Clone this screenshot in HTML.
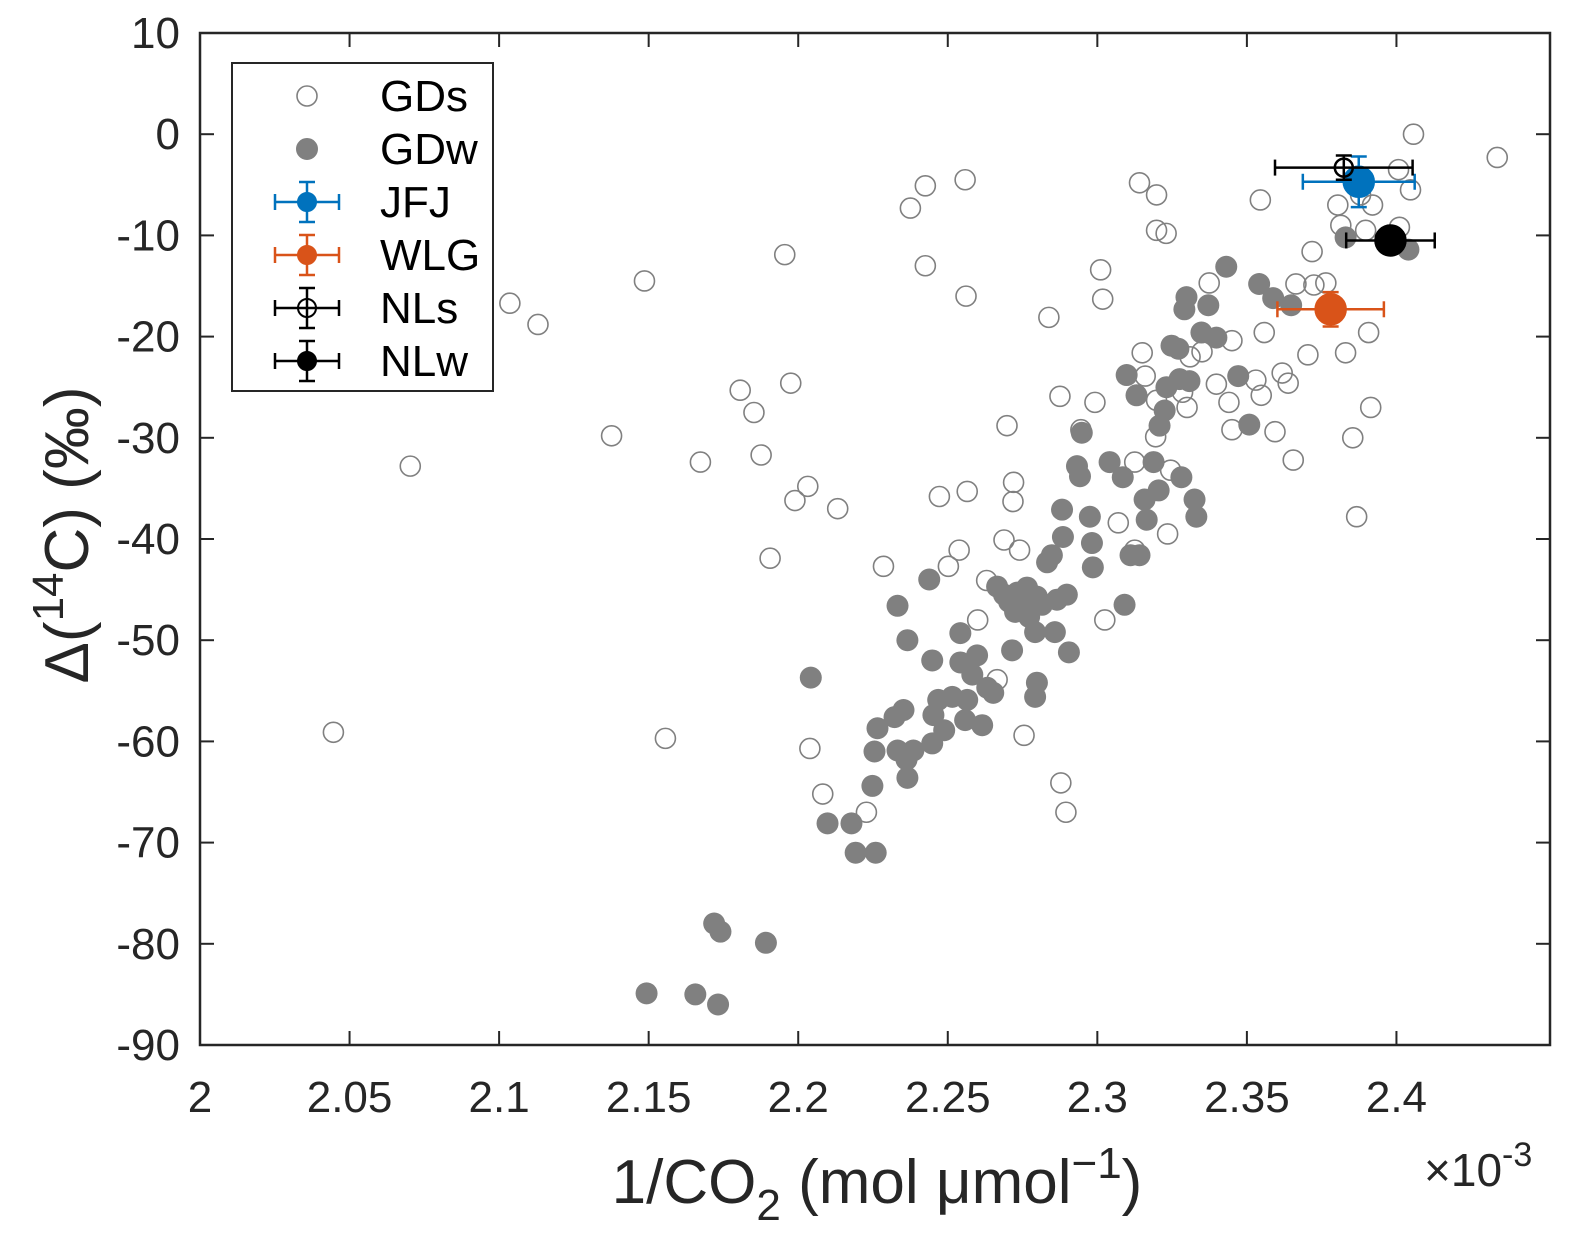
<!DOCTYPE html>
<html><head><meta charset="utf-8"><style>
body{margin:0;background:#fff}
svg{display:block;font-family:"Liberation Sans",Arial,sans-serif}
</style></head><body>
<svg id="chart" width="1572" height="1252" viewBox="0 0 1572 1252" xmlns="http://www.w3.org/2000/svg">
<rect width="1572" height="1252" fill="#fff"/>
<g id="marks"></g>
<rect x="200" y="33" width="1350" height="1012" fill="none" stroke="#262626" stroke-width="2.5"/>
<g id="ticks" font-size="44" fill="#262626"></g>
<text x="877" y="1203" font-size="62" text-anchor="middle" fill="#262626">1/CO<tspan font-size="44" dy="17">2</tspan><tspan dy="-17"> (mol μmol</tspan><tspan font-size="44" dy="-25">−1</tspan><tspan dy="25">)</tspan></text>
<text x="1424" y="1186" font-size="46" fill="#262626">×10<tspan font-size="34" dy="-20">-3</tspan></text>
<text transform="translate(88,535) rotate(-90)" font-size="62" text-anchor="middle" fill="#262626">Δ(<tspan font-size="44" dy="-25">14</tspan><tspan dy="25">C) (‰)</tspan></text>
<g id="legend">
<rect x="232" y="63" width="261" height="328" fill="#fff" stroke="#262626" stroke-width="2"/>
</g>
</svg>
<script>
const gdsX=[2.0703,2.0446,2.1036,2.113,2.1376,2.1486,2.1556,2.1673,2.1806,2.1852,2.1876,2.1906,2.1955,2.1975,2.1989,2.2032,2.2039,2.2082,2.2132,2.2228,2.2285,2.2375,2.2425,2.2425,2.2472,2.2502,2.2538,2.2561,2.2565,2.2558,2.26,2.263,2.2665,2.2698,2.2688,2.272,2.2718,2.274,2.2755,2.2838,2.2875,2.2878,2.2895,2.2945,2.2992,2.3011,2.3018,2.3025,2.307,2.3125,2.3125,2.3141,2.3198,2.3198,2.323,2.315,2.316,2.3195,2.3235,2.3245,2.3198,2.3285,2.33,2.331,2.335,2.3374,2.3398,2.345,2.345,2.344,2.3545,2.353,2.3548,2.3558,2.3594,2.3618,2.3638,2.3655,2.3664,2.3704,2.3718,2.3724,2.3764,2.3804,2.3814,2.383,2.3854,2.3867,2.388,2.3897,2.3907,2.3914,2.392,2.4007,2.401,2.4057,2.4047,2.4337];
const gdsY=[-32.8,-59.1,-16.7,-18.8,-29.8,-14.5,-59.7,-32.4,-25.3,-27.5,-31.7,-41.9,-11.9,-24.6,-36.2,-34.8,-60.7,-65.2,-37.0,-67.0,-42.7,-7.3,-5.1,-13.0,-35.8,-42.7,-41.1,-16.0,-35.3,-4.5,-48.0,-44.1,-53.9,-28.8,-40.1,-34.4,-36.3,-41.1,-59.4,-18.1,-25.9,-64.1,-67.0,-29.2,-26.5,-13.4,-16.3,-48.0,-38.4,-32.4,-41.1,-4.8,-6.0,-9.5,-9.8,-21.6,-23.9,-29.9,-39.5,-33.2,-26.3,-25.5,-27.0,-22.0,-21.5,-14.7,-24.7,-20.4,-29.2,-26.5,-6.5,-24.3,-25.8,-19.6,-29.4,-23.6,-24.6,-32.2,-14.8,-21.8,-11.6,-14.9,-14.7,-7.0,-9.0,-21.6,-30.0,-37.8,-6.0,-9.5,-19.6,-27.0,-7.0,-3.5,-9.2,0.0,-5.5,-2.3];
const gdwX=[2.1493,2.1656,2.1732,2.1719,2.174,2.1892,2.2042,2.2098,2.2178,2.2192,2.2259,2.2248,2.2255,2.2265,2.2322,2.2332,2.2352,2.2365,2.2332,2.2362,2.2365,2.2385,2.2438,2.2448,2.2452,2.2448,2.2468,2.2488,2.2515,2.2542,2.2542,2.2558,2.2565,2.2582,2.2598,2.2615,2.2632,2.2652,2.2665,2.2688,2.2705,2.2715,2.2725,2.2732,2.2748,2.2765,2.2772,2.2792,2.2798,2.2815,2.2798,2.2792,2.2832,2.2848,2.2858,2.2865,2.2882,2.2885,2.2898,2.2905,2.2932,2.2942,2.2948,2.2975,2.2982,2.2985,2.3041,2.3085,2.3091,2.3098,2.3131,2.3111,2.3141,2.3158,2.3165,2.3188,2.3205,2.3208,2.3225,2.3231,2.3248,2.3271,2.3275,2.3281,2.3291,2.3298,2.3308,2.3325,2.3331,2.3348,2.3371,2.3398,2.3431,2.3471,2.3508,2.3541,2.3588,2.3648,2.383,2.404];
const gdwY=[-84.9,-85.0,-86.0,-78.0,-78.8,-79.9,-53.7,-68.1,-68.1,-71.0,-71.0,-64.4,-61.0,-58.7,-57.6,-46.6,-56.9,-50.0,-60.9,-61.8,-63.6,-60.9,-44.0,-52.0,-57.4,-60.2,-55.9,-58.9,-55.6,-49.3,-52.2,-57.9,-55.9,-53.4,-51.5,-58.4,-54.7,-55.2,-44.7,-45.5,-46.2,-51.0,-47.2,-45.3,-46.5,-44.8,-47.7,-49.2,-45.7,-46.5,-54.2,-55.6,-42.3,-41.6,-49.2,-46.0,-37.1,-39.8,-45.5,-51.2,-32.8,-33.8,-29.5,-37.8,-40.4,-42.8,-32.4,-33.9,-46.5,-23.8,-25.8,-41.6,-41.6,-36.1,-38.1,-32.4,-35.2,-28.8,-27.3,-25.0,-20.9,-21.2,-24.2,-33.9,-17.3,-16.1,-24.4,-36.1,-37.8,-19.6,-16.9,-20.1,-13.1,-23.9,-28.7,-14.8,-16.2,-16.9,-10.2,-11.4];
const stationNames=["JFJ","WLG","NLs","NLw"];
const stationX=[2.3874,2.378,2.3824,2.398];
const stationY=[-4.7,-17.3,-3.3,-10.5];
const stationXErr=[0.0187,0.0178,0.023,0.0148];
const stationYErr=[2.5,1.7,1.2,1.2];
const xTicks=[2,2.05,2.1,2.15,2.2,2.25,2.3,2.35,2.4];
const yTicks=[10,0,-10,-20,-30,-40,-50,-60,-70,-80,-90];

const NS="http://www.w3.org/2000/svg";
const X0=200,X1=1550,Y0=33,Y1=1045;
const xs=v=>X0+(v-2)/0.45*(X1-4-X0);
const ys=v=>Y0+(10-v)/100*(Y1-Y0);
function mk(tag,attrs,parent){const e=document.createElementNS(NS,tag);for(const k in attrs)e.setAttribute(k,attrs[k]);parent.appendChild(e);return e;}
const marks=document.getElementById('marks');
gdsX.forEach((v,i)=>{const c=mk('circle',{cx:xs(v),cy:ys(gdsY[i]),r:10,fill:'none',stroke:'#808080','stroke-width':1.6},marks);

});
gdwX.forEach((v,i)=>{const c=mk('circle',{cx:xs(v),cy:ys(gdwY[i]),r:11,fill:'#808080'},marks);

});
const sCol=['#0072bd','#d95319','#000','#000'];
const sFill=['#0072bd','#d95319','none','#000'];
const sR=[15,15,9,15];
stationX.forEach((v,i)=>{
 const g=mk('g',{stroke:sCol[i],'stroke-width':2.5},marks);
 
 
 const cx=xs(v),cy=ys(stationY[i]),xl=xs(v-stationXErr[i]),xr=xs(v+stationXErr[i]),yt=ys(stationY[i]+stationYErr[i]),yb=ys(stationY[i]-stationYErr[i]);
 mk('line',{x1:xl,x2:xr,y1:cy,y2:cy},g);
 mk('line',{x1:xl,x2:xl,y1:cy-8,y2:cy+8},g);
 mk('line',{x1:xr,x2:xr,y1:cy-8,y2:cy+8},g);
 mk('line',{x1:cx,x2:cx,y1:yt,y2:yb},g);
 mk('line',{x1:cx-8,x2:cx+8,y1:yt,y2:yt},g);
 mk('line',{x1:cx-8,x2:cx+8,y1:yb,y2:yb},g);
 mk('circle',{cx:cx,cy:cy,r:sR[i],fill:sFill[i]},g);
});
const tg=document.getElementById('ticks');
xTicks.forEach(v=>{const x=xs(v);
 mk('line',{x1:x,x2:x,y1:Y1,y2:Y1-14,stroke:'#262626','stroke-width':2},tg);
 mk('line',{x1:x,x2:x,y1:Y0,y2:Y0+14,stroke:'#262626','stroke-width':2},tg);
 const t=mk('text',{x:x,y:1112,'text-anchor':'middle'},tg);t.textContent=String(v);
 
 });
yTicks.forEach(v=>{const y=ys(v);
 mk('line',{x1:X0,x2:X0+14,y1:y,y2:y,stroke:'#262626','stroke-width':2},tg);
 mk('line',{x1:X1,x2:X1-14,y1:y,y2:y,stroke:'#262626','stroke-width':2},tg);
 const t=mk('text',{x:180,y:y+15,'text-anchor':'end'},tg);t.textContent=String(v);
 
 });
const lg=document.getElementById('legend');
const lNames=["GDs","GDw","JFJ","WLG","NLs","NLw"];
const lCol=['#808080','#808080','#0072bd','#d95319','#000','#000'];
const lFill=['none','#808080','#0072bd','#d95319','none','#000'];
lNames.forEach((n,i)=>{const y=96+i*53;
 const g=mk('g',{},lg);
 
 
 if(i>=2){mk('line',{x1:275,x2:339,y1:y,y2:y,stroke:lCol[i],'stroke-width':2.5},g);
  mk('line',{x1:275,x2:275,y1:y-8,y2:y+8,stroke:lCol[i],'stroke-width':2.5},g);
  mk('line',{x1:339,x2:339,y1:y-8,y2:y+8,stroke:lCol[i],'stroke-width':2.5},g);
  mk('line',{x1:307,x2:307,y1:y-20,y2:y+20,stroke:lCol[i],'stroke-width':2.5},g);
  mk('line',{x1:299,x2:315,y1:y-20,y2:y-20,stroke:lCol[i],'stroke-width':2.5},g);
  mk('line',{x1:299,x2:315,y1:y+20,y2:y+20,stroke:lCol[i],'stroke-width':2.5},g);}
 mk('circle',{cx:307,cy:y,r:i<2?10:9,fill:lFill[i],stroke:lCol[i],'stroke-width':i==0?1.6:2},g);
 const t=mk('text',{x:380,y:y+15,'font-size':44,fill:'#000'},g);t.textContent=n;});
</script>
</body></html>
